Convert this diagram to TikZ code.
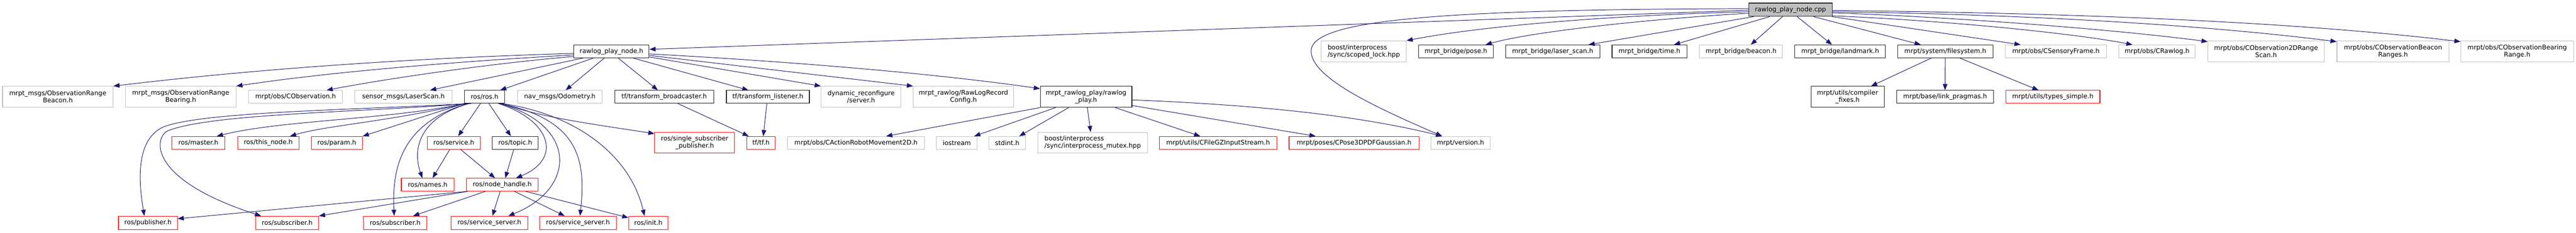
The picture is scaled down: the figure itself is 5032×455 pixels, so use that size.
\documentclass[tikz,border=0pt]{standalone}
\usepackage{fontspec}
\setmainfont{DejaVu Sans}
\usetikzlibrary{arrows.meta}
\definecolor{edgeblue}{HTML}{191970}
\definecolor{grayb}{HTML}{BFBFBF}
\definecolor{redb}{HTML}{FF0000}
\definecolor{blackb}{HTML}{202020}
\begin{document}
\begin{tikzpicture}[x=1pt,y=-1pt,
  box/.style={draw, line width=1.1pt, inner sep=0pt, font=\fontsize{12.5}{14}\selectfont, align=center, minimum height=25pt},
  bk/.style={box, draw=blackb},
  gy/.style={box, draw=grayb},
  rd/.style={box, draw=redb},
  two/.style={minimum height=41pt},
  dep/.style={draw=edgeblue, line width=1pt, -{Triangle[length=12pt,width=9pt]}},
]
\fill[white] (0,0) rectangle (5032,455);
\useasboundingbox (0,0) rectangle (5032,455);

% row 0
\node[bk, fill=grayb, minimum width=163pt, minimum height=26pt] (root) at (3497.5,19) {rawlog\_play\_node.cpp};

% row 1
\node[bk, minimum width=147pt] (nodeh) at (1194.5,100.5) {rawlog\_play\_node.h};
\node[gy, two, minimum width=166pt, align=left] (scoped) at (2664,100.5) {boost/interprocess\\/sync/scoped\_lock.hpp};
\node[bk, minimum width=146pt] (pose) at (2844,100.5) {mrpt\_bridge/pose.h};
\node[bk, minimum width=184pt] (laser) at (3033,100.5) {mrpt\_bridge/laser\_scan.h};
\node[bk, minimum width=146pt] (time) at (3222,100.5) {mrpt\_bridge/time.h};
\node[gy, minimum width=162pt] (beacon) at (3401,100.5) {mrpt\_bridge/beacon.h};
\node[bk, minimum width=177pt] (landmark) at (3594.5,100.5) {mrpt\_bridge/landmark.h};
\node[bk, minimum width=186pt] (filesys) at (3800,100.5) {mrpt/system/filesystem.h};
\node[gy, minimum width=198pt] (sensory) at (4016,100.5) {mrpt/obs/CSensoryFrame.h};
\node[gy, minimum width=149pt] (rawlog) at (4213.5,100.5) {mrpt/obs/CRawlog.h};
\node[gy, two, minimum width=227pt] (obs2d) at (4426.5,100.5) {mrpt/obs/CObservation2DRange\\Scan.h};
\node[gy, two, minimum width=219pt] (beaconr) at (4674.5,100.5) {mrpt/obs/CObservationBeacon\\Ranges.h};
\node[gy, two, minimum width=220pt] (bearing) at (4917,100.5) {mrpt/obs/CObservationBearing\\Range.h};

% row 2
\node[gy, two, minimum width=216pt] (rbeacon) at (113,189.5) {mrpt\_msgs/ObservationRange\\Beacon.h};
\node[gy, two, minimum width=216pt] (rbearing) at (353,189.5) {mrpt\_msgs/ObservationRange\\Bearing.h};
\node[gy, minimum width=183pt] (cobs) at (577.5,189.5) {mrpt/obs/CObservation.h};
\node[gy, minimum width=190pt] (laserscan) at (788,189.5) {sensor\_msgs/LaserScan.h};
\node[bk, minimum width=79pt] (ros) at (946.5,189.5) {ros/ros.h};
\node[gy, minimum width=165pt] (odom) at (1093.5,189.5) {nav\_msgs/Odometry.h};
\node[bk, minimum width=193pt] (tfb) at (1297.5,189.5) {tf/transform\_broadcaster.h};
\node[bk, minimum width=162pt] (tfl) at (1500,189.5) {tf/transform\_listener.h};
\node[gy, two, minimum width=156pt] (dyn) at (1682,189.5) {dynamic\_reconfigure\\/server.h};
\node[gy, two, minimum width=196pt] (rawcfg) at (1882,189.5) {mrpt\_rawlog/RawLogRecord\\Config.h};
\node[bk, two, minimum width=179pt] (play) at (2121.5,189.5) {mrpt\_rawlog\_play/rawlog\\\_play.h};
\node[bk, two, minimum width=143pt] (compfix) at (3609,189.5) {mrpt/utils/compiler\\\_fixes.h};
\node[bk, minimum width=189pt] (linkp) at (3799.5,189.5) {mrpt/base/link\_pragmas.h};
\node[rd, minimum width=184pt] (types) at (4010,189.5) {mrpt/utils/types\_simple.h};

% row 3
\node[rd, minimum width=103pt] (master) at (387.5,279.5) {ros/master.h};
\node[rd, minimum width=120pt] (thisnode) at (524,279.5) {ros/this\_node.h};
\node[rd, minimum width=100pt] (param) at (658,279.5) {ros/param.h};
\node[rd, minimum width=103pt] (service) at (886.5,279.5) {ros/service.h};
\node[bk, minimum width=89pt] (topic) at (1006.5,279.5) {ros/topic.h};
\node[rd, minimum height=40pt, minimum width=156pt] (single) at (1357,279) {ros/single\_subscriber\\\_publisher.h};
\node[rd, minimum width=55pt] (tf) at (1486.5,279.5) {tf/tf.h};
\node[gy, minimum width=268pt] (action) at (1672,279.5) {mrpt/obs/CActionRobotMovement2D.h};
\node[gy, minimum width=80pt] (iostream) at (1869,279.5) {iostream};
\node[gy, minimum width=71pt] (stdint) at (1967.5,279.5) {stdint.h};
\node[gy, minimum height=40pt, minimum width=215pt, align=left] (mutex) at (2134.5,279) {boost/interprocess\\/sync/interprocess\_mutex.hpp};
\node[rd, minimum width=229pt] (gz) at (2379.5,279.5) {mrpt/utils/CFileGZInputStream.h};
\node[rd, minimum width=254pt] (pose3d) at (2645,279.5) {mrpt/poses/CPose3DPDFGaussian.h};
\node[gy, minimum width=116pt] (version) at (2853,279.5) {mrpt/version.h};

% row 4
\node[rd, minimum width=103pt] (names) at (835.5,361.5) {ros/names.h};
\node[rd, minimum width=140pt] (nh) at (981,361.5) {ros/node\_handle.h};

% row 5
\node[rd, minimum width=115pt, minimum height=26pt] (pub) at (289,436) {ros/publisher.h};
\node[rd, minimum width=123pt, minimum height=26pt] (sub1) at (561,436) {ros/subscriber.h};
\node[rd, minimum width=124pt, minimum height=26pt] (sub2) at (772,436) {ros/subscriber.h};
\node[rd, minimum width=150pt, minimum height=26pt] (ss1) at (956,436) {ros/service\_server.h};
\node[rd, minimum width=150pt, minimum height=26pt] (ss2) at (1129,436) {ros/service\_server.h};
\node[rd, minimum width=77pt, minimum height=26pt] (init) at (1266.5,436) {ros/init.h};

% root edges
\draw[dep] ([yshift=-1pt]root.west) -- ([yshift=4pt]nodeh.east);
\draw[dep] ([yshift=2pt]root.west) .. controls (2800,18) and (2561,40) .. (2561,100) .. controls (2562,155) and (2700,215) .. ([xshift=-36pt]version.north);
\draw[dep] ([yshift=-4pt]root.west) .. controls (3150,30) and (2900,50) .. (scoped.north east);
\draw[dep] ([yshift=-7pt]root.west) .. controls (3250,35) and (3000,60) .. ([xshift=58pt]pose.north);
\draw[dep] ([xshift=-72pt]root.south) -- ([xshift=70pt]laser.north);
\draw[dep] ([xshift=-40.5pt]root.south) -- ([xshift=48pt]time.north);
\draw[dep] ([xshift=-15.5pt]root.south) -- ([xshift=19pt]beacon.north);
\draw[dep] ([xshift=13pt]root.south) -- ([xshift=-16pt]landmark.north);
\draw[dep] ([xshift=45pt]root.south) -- ([xshift=-48pt]filesys.north);
\draw[dep] ([xshift=-1pt]root.south east) -- ([xshift=-69pt]sensory.north);
\draw[dep] ([yshift=-12pt]root.east) .. controls (3800,40) and (4050,65) .. ([xshift=-48pt]rawlog.north);
\draw[dep] ([yshift=-6pt]root.east) .. controls (3850,35) and (4150,60) .. ([yshift=-2pt]obs2d.north west);
\draw[dep] ([yshift=-4pt]root.east) .. controls (3950,28) and (4300,48) .. ([yshift=-2pt]beaconr.north west);
\draw[dep] ([yshift=-1.5pt]root.east) .. controls (4100,26) and (4500,45) .. ([yshift=-2pt]bearing.north west);

% rawlog_play_node.h edges
\draw[dep] ([yshift=-4pt]nodeh.west) .. controls (800,114) and (500,135) .. (rbeacon.north east);
\draw[dep] ([yshift=-7pt]nodeh.west) .. controls (900,120) and (650,140) .. (rbearing.north east);
\draw[dep] ([yshift=-10pt]nodeh.west) .. controls (950,125) and (750,155) .. ([xshift=60.5pt]cobs.north);
\draw[dep] ([xshift=-55pt]nodeh.south) -- ([xshift=52pt]laserscan.north);
\draw[dep] ([xshift=-35pt]nodeh.south) -- ([xshift=30.5pt]ros.north);
\draw[dep] ([xshift=-14pt]nodeh.south) -- ([xshift=11.5pt]odom.north);
\draw[dep] ([xshift=13pt]nodeh.south) -- ([xshift=-12.5pt]tfb.north);
\draw[dep] ([xshift=42pt]nodeh.south) -- ([xshift=-38pt]tfl.north);
\draw[dep] ([yshift=-11pt]nodeh.east) -- (dyn.north west);
\draw[dep] ([yshift=-8pt]nodeh.east) -- (rawcfg.north west);
\draw[dep] ([yshift=-5pt]nodeh.east) .. controls (1500,118) and (1800,140) .. ([yshift=-5pt]play.north west);

% ros/ros.h edges
\draw[dep] ([xshift=-8pt]ros.south) -- ([xshift=8.5pt]service.north);
\draw[dep] ([xshift=8.5pt]ros.south) -- ([xshift=-8.5pt]topic.north);
\draw[dep] ([xshift=27pt]ros.south) .. controls (1075,235) and (1100,310) .. ([xshift=27pt]nh.north);
\draw[dep] ([xshift=29pt]ros.south) .. controls (1130,245) and (1125,370) .. ([xshift=37pt]ss1.north);
\draw[dep] ([xshift=31pt]ros.south) .. controls (1130,235) and (1145,310) .. ([xshift=4pt]ss2.north);
\draw[dep] ([xshift=33pt]ros.south) .. controls (1120,222) and (1230,300) .. ([xshift=-7.5pt]init.north);
\draw[dep] ([xshift=35pt]ros.south) .. controls (1050,228) and (1150,242) .. ([yshift=-3pt]single.north west);
\draw[dep] ([xshift=-30pt]ros.south) .. controls (820,230) and (805,290) .. ([xshift=-10.5pt]names.north);
\draw[dep] ([xshift=-33pt]ros.south) .. controls (790,240) and (765,320) .. ([xshift=-2pt]sub2.north);
\draw[dep] ([xshift=-36pt]ros.south) .. controls (750,235) and (550,235) .. ([xshift=36pt]master.north);
\draw[dep] ([xshift=-37pt]ros.south) .. controls (760,238) and (640,245) .. ([xshift=42.5pt]thisnode.north);
\draw[dep] (ros.south west) -- (param.north east);
\draw[dep] ([xshift=-28pt]ros.south) .. controls (700,215) and (400,218) .. (320,248) .. controls (270,270) and (268,340) .. ([xshift=-7pt]pub.north);
\draw[dep] ([xshift=-26pt]ros.south) .. controls (700,220) and (420,222) .. (330,255) .. controls (300,266) and (285,350) .. ([xshift=-51pt]sub1.north);

% service / topic
\draw[dep] ([xshift=-8pt]service.south) -- ([xshift=9.5pt]names.north);
\draw[dep] ([xshift=13.5pt]service.south) -- ([xshift=-14pt]nh.north);
\draw[dep] ([xshift=-3pt]topic.south) -- ([xshift=6pt]nh.north);

% node_handle
\draw[dep] ([xshift=2pt]nh.south west) -- ([yshift=8pt]pub.east);
\draw[dep] ([xshift=3pt]nh.south west) -- (sub1.north east);
\draw[dep] ([xshift=-33pt]nh.south) -- ([xshift=35pt]sub2.north);
\draw[dep] ([xshift=-4pt]nh.south) -- ([xshift=6pt]ss1.north);
\draw[dep] ([xshift=24pt]nh.south) -- ([xshift=-26pt]ss2.north);
\draw[dep] ([xshift=46pt]nh.south) -- ([yshift=10pt]init.west);

% tf
\draw[dep] ([xshift=26.5pt]tfb.south) -- ([xshift=-24pt]tf.north);
\draw[dep] ([xshift=-2pt]tfl.south) -- ([xshift=4.5pt]tf.north);

% rawlog_play.h
\draw[dep] (play.south west) -- ([xshift=59pt]action.north);
\draw[dep] ([xshift=-59.5pt]play.south) -- ([xshift=34pt]iostream.north);
\draw[dep] ([xshift=-34pt]play.south) -- ([xshift=23.5pt]stdint.north);
\draw[dep] ([xshift=2.5pt]play.south) -- ([xshift=-4pt]mutex.north);
\draw[dep] ([xshift=57pt]play.south) -- ([xshift=-35pt]gz.north);
\draw[dep] ([yshift=-17pt]play.east) -- ([xshift=-75pt]pose3d.north);
\draw[dep] ([yshift=-6pt]play.east) .. controls (2450,205) and (2650,225) .. ([xshift=-36pt]version.north);

% filesystem
\draw[dep] ([xshift=-27pt]filesys.south) -- ([xshift=46pt]compfix.north);
\draw[dep] (filesys.south) -- (linkp.north);
\draw[dep] ([xshift=28pt]filesys.south) -- ([xshift=-28pt]types.north);
\end{tikzpicture}
\end{document}
